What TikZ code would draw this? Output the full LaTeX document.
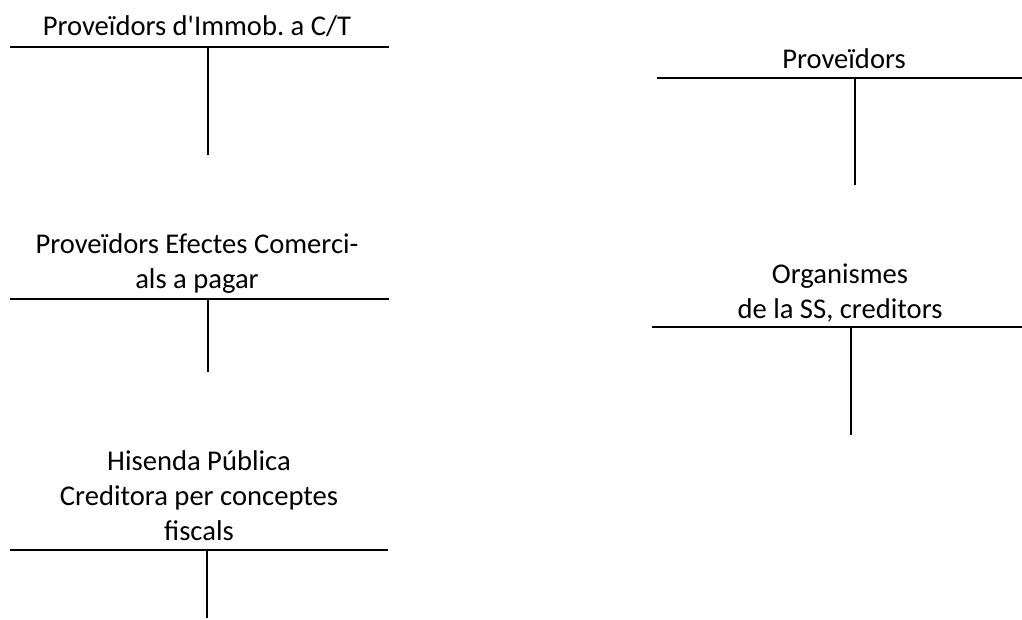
\documentclass[tikz,border=0pt]{standalone}
\usepackage{fontspec}
\setmainfont{Carlito}
\frenchspacing
\begin{document}
\begin{tikzpicture}[x=1pt,y=-1pt,line width=2pt,
    titol/.style={align=center,inner sep=0pt,anchor=base,
      font=\fontsize{28.6}{35}\selectfont}]
        \useasboundingbox (0,0) rectangle (1022,619);

        % Proveïdors d'Immob. a C/T
        \node[titol] (immob) at (197,35) {Proveïdors d\textquotesingle Immob. a C/T};
        \draw (10,47) -- (389,47);
        \draw (208,47) -- (208,155);

        % Proveïdors Efectes Comercials a pagar
        \node[titol] (efectes) at (197,288) {Proveïdors Efectes Comerci-\\als a pagar};
        \draw (10,299) -- (389,299);
        \draw (208,299) -- (208,372);

        % Hisenda Pública
        \node[titol] (hisenda) at (199,540) {Hisenda Pública\\Creditora per conceptes\\f{}iscals};
        \draw (10,550) -- (388,550);
        \draw (207,550) -- (207,618);

        % Proveïdors
        \node[titol] (proveidors) at (844,68) {Proveïdors};
        \draw (657,78) -- (1022,78);
        \draw (855,78) -- (855,185);

        % Organismes de la SS
        \node[titol] (organismes) at (840,318) {Organismes\\de la SS, creditors};
        \draw (652,327) -- (1022,327);
        \draw (851,327) -- (851,435);
    \end{tikzpicture}
\end{document}
